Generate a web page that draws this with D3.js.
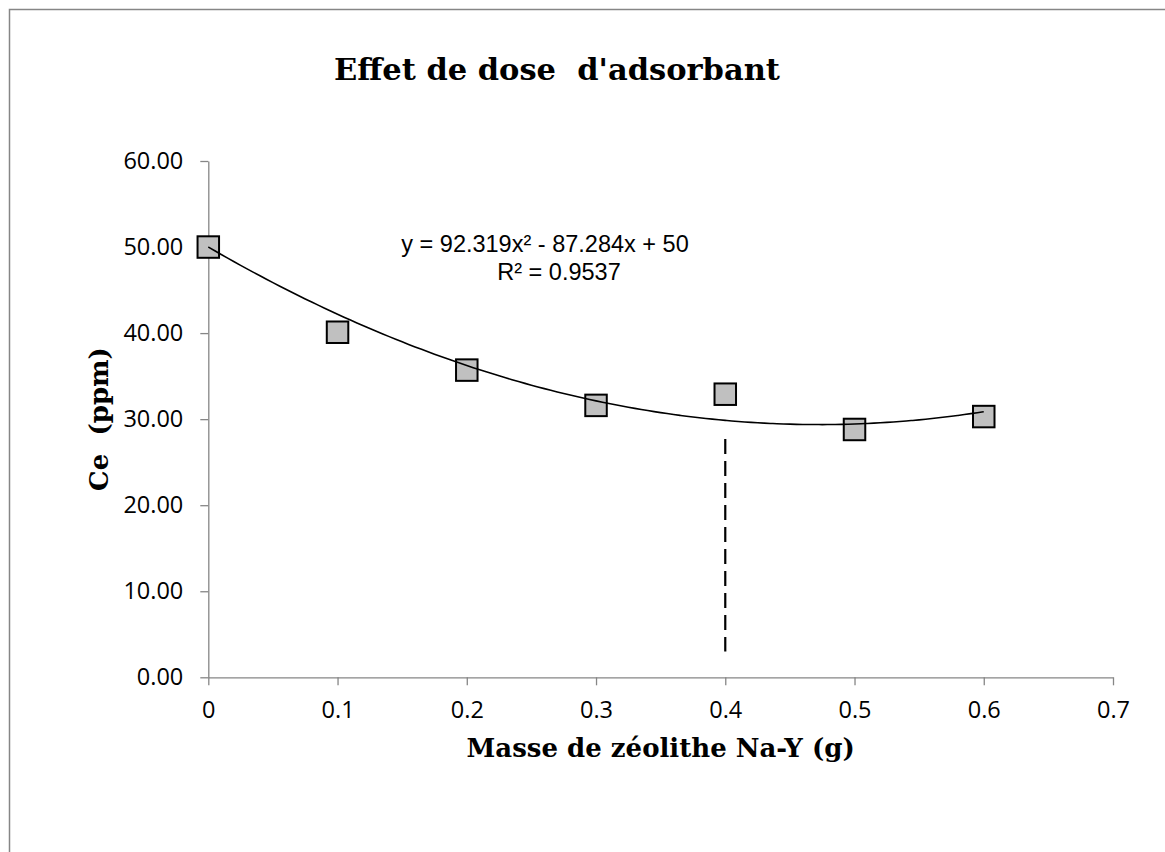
<!DOCTYPE html>
<html>
<head>
<meta charset="utf-8">
<script src="https://cdn.jsdelivr.net/npm/d3@7"></script>
<style>
  body { margin: 0; background: #fff; }
  .axis path, .axis line { stroke: #868686; stroke-width: 1.3; }
  .axis text { font-family: "Open Sans", sans-serif; font-size: 23.5px; fill: #000; }
</style>
</head>
<body>
<div id="chart"></div>
<script>
// data
var masse = [0, 0.1, 0.2, 0.3, 0.4, 0.5, 0.6];
var ce = [50.0, 40.1, 35.7, 31.6, 32.9, 28.8, 30.3];
var xTicks = [0, 0.1, 0.2, 0.3, 0.4, 0.5, 0.6, 0.7];
var yTicks = [0, 10, 20, 30, 40, 50, 60];
// polynomial trendline y = a x^2 + b x + c
var trendCoef = [92.319, -87.284, 50];
var trendLabels = ["y = 92.319x\u00b2 - 87.284x + 50", "R\u00b2 = 0.9537"];
// dashed marker line at 0.4 g
var dashX = [0.4, 0.4];
var dashY = [27.7, 3.0];

function DoseChart() {
  var self = this;
  self.init();
}

DoseChart.prototype.init = function () {
  var self = this;
  self.width = 1165;
  self.height = 852;
  self.plot = { left: 208.3, right: 1113, top: 161, bottom: 677.3 };

  self.svg = d3.select("#chart").append("svg")
    .attr("width", self.width)
    .attr("height", self.height);

  // outer frame (only left and top edges show in the crop)
  self.svg.append("path")
    .attr("d", "M9.5," + self.height + "V9.5H" + self.width)
    .attr("fill", "none")
    .attr("stroke", "#868686")
    .attr("stroke-width", 1.5);
}

DoseChart.prototype.draw = function () {
  var self = this;
  var p = self.plot;

  var xScale = d3.scaleLinear().domain([0, 0.7]).range([p.left, p.right]);
  var yScale = d3.scaleLinear().domain([0, 60]).range([p.bottom, p.top]);

  // axes
  var xAxis = d3.axisBottom(xScale)
    .tickValues(xTicks)
    .tickSize(8)
    .tickSizeOuter(0)
    .tickPadding(16)
    .tickFormat(function (d) { return d === 0 ? "0" : d3.format(".1f")(d); });

  var yAxis = d3.axisLeft(yScale)
    .tickValues(yTicks)
    .tickSize(8)
    .tickSizeOuter(0)
    .tickPadding(17)
    .tickFormat(d3.format(".2f"));

  self.svg.append("g")
    .attr("class", "axis")
    .attr("transform", "translate(0," + p.bottom + ")")
    .call(xAxis);

  self.svg.append("g")
    .attr("class", "axis")
    .attr("transform", "translate(" + p.left + ",0)")
    .call(yAxis);

  // dashed vertical line
  var dashLine = d3.line()
    .x(function (d) { return xScale(d[0]); })
    .y(function (d) { return yScale(d[1]); });

  self.svg.append("path")
    .datum(d3.zip(dashX, dashY))
    .attr("fill", "none")
    .attr("stroke", "#000")
    .attr("stroke-width", 2.2)
    .attr("stroke-dasharray", "15 7")
    .attr("d", dashLine);

  // trendline
  var trendX = d3.range(0, 0.6001, 0.005);
  var trendLine = d3.line()
    .x(function (d) { return xScale(d); })
    .y(function (d) { return yScale(trendCoef[0] * d * d + trendCoef[1] * d + trendCoef[2]); })
    .curve(d3.curveMonotoneX);

  // markers
  var size = 21.5;
  self.svg.append("g")
    .selectAll("rect")
    .data(d3.zip(masse, ce))
    .enter()
    .append("rect")
    .attr("x", function (d) { return xScale(d[0]) - size / 2; })
    .attr("y", function (d) { return yScale(d[1]) - size / 2; })
    .attr("width", size)
    .attr("height", size)
    .attr("fill", "#c0c0c0")
    .attr("stroke", "#000")
    .attr("stroke-width", 2);

  self.svg.append("path")
    .datum(trendX)
    .attr("fill", "none")
    .attr("stroke", "#000")
    .attr("stroke-width", 1.6)
    .attr("d", trendLine);

  // trendline equation
  var eq = self.svg.append("g")
    .attr("font-family", "'Liberation Sans', Arial, sans-serif")
    .attr("font-size", 23.5)
    .attr("text-anchor", "middle");
  eq.append("text").attr("x", 545).attr("y", 252).text(trendLabels[0]);
  eq.append("text").attr("x", 559).attr("y", 280).text(trendLabels[1]);

  // titles
  self.svg.append("text")
    .attr("x", 557)
    .attr("y", 80)
    .attr("text-anchor", "middle")
    .attr("font-family", "'DejaVu Serif', serif")
    .attr("font-weight", "bold")
    .attr("font-size", 30.5)
    .style("white-space", "pre")
    .text("Effet de dose  d'adsorbant");

  self.svg.append("text")
    .attr("x", (p.left + p.right) / 2)
    .attr("y", 757)
    .attr("text-anchor", "middle")
    .attr("font-family", "'DejaVu Serif', serif")
    .attr("font-weight", "bold")
    .attr("font-size", 26)
    .text("Masse de zéolithe Na-Y (g)");

  self.svg.append("text")
    .attr("transform", "translate(108,419) rotate(-90)")
    .attr("text-anchor", "middle")
    .attr("font-family", "'DejaVu Serif', serif")
    .attr("font-weight", "bold")
    .attr("font-size", 26)
    .style("white-space", "pre")
    .text("Ce  (ppm)");
}

var chart = new DoseChart();
chart.draw();
</script>
</body>
</html>
